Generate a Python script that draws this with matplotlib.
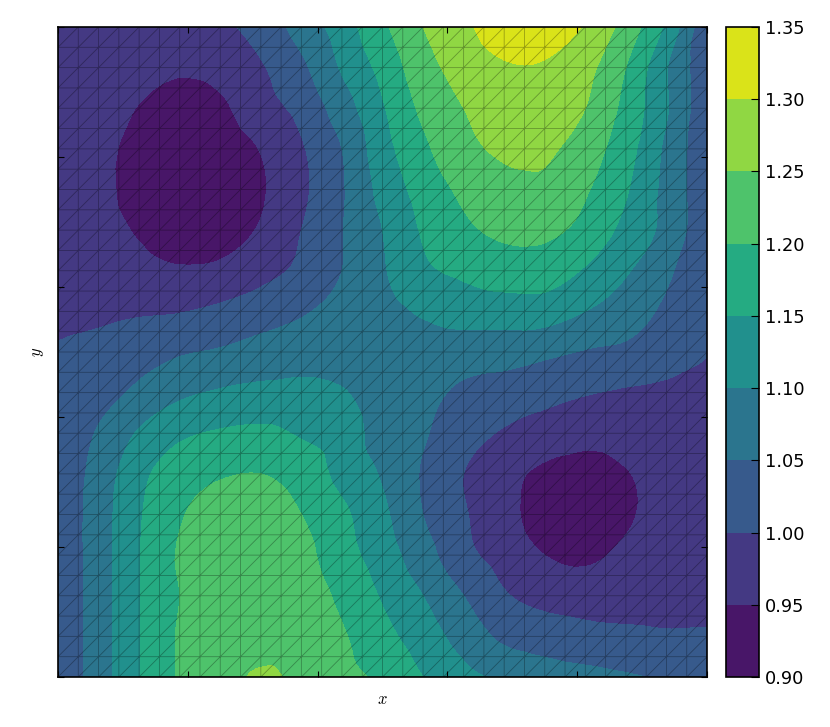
import numpy as np
import matplotlib
matplotlib.use('Agg')
import matplotlib.pyplot as plt
import matplotlib.tri as tri

plt.rcParams['mathtext.fontset'] = 'cm'

# values, rows go from top (y=1) to bottom (y=0)
row_1 = [0.980, 0.975, 0.970, 0.975, 0.990, 1.020, 1.070, 1.125, 1.190, 1.250, 1.290, 1.325, 1.325, 1.295, 1.230, 1.140, 1.012]
row_2 = [0.985, 0.975, 0.965, 0.956, 0.965, 0.995, 1.040, 1.105, 1.165, 1.230, 1.270, 1.295, 1.295, 1.265, 1.200, 1.103, 1.012]
row_3 = [0.985, 0.970, 0.948, 0.930, 0.942, 0.980, 1.015, 1.075, 1.145, 1.210, 1.250, 1.275, 1.280, 1.250, 1.185, 1.105, 1.012]
row_4 = [0.985, 0.968, 0.930, 0.915, 0.925, 0.952, 0.995, 1.050, 1.130, 1.190, 1.235, 1.258, 1.258, 1.225, 1.170, 1.090, 1.012]
row_5 = [0.985, 0.965, 0.930, 0.910, 0.920, 0.945, 0.990, 1.045, 1.115, 1.170, 1.210, 1.235, 1.240, 1.205, 1.155, 1.085, 1.012]
row_6 = [0.985, 0.970, 0.945, 0.925, 0.930, 0.955, 1.000, 1.048, 1.100, 1.155, 1.190, 1.210, 1.210, 1.185, 1.135, 1.085, 1.012]
row_7 = [0.990, 0.980, 0.965, 0.955, 0.960, 0.985, 1.010, 1.050, 1.095, 1.140, 1.160, 1.175, 1.175, 1.145, 1.105, 1.060, 1.005]
row_8 = [0.985, 0.990, 0.995, 0.998, 1.010, 1.025, 1.045, 1.065, 1.085, 1.105, 1.120, 1.125, 1.125, 1.100, 1.075, 1.040, 1.003]
row_9 = [1.005, 1.015, 1.030, 1.045, 1.055, 1.070, 1.075, 1.080, 1.080, 1.080, 1.075, 1.070, 1.060, 1.047, 1.040, 1.025, 1.002]
row_10 = [1.010, 1.030, 1.060, 1.090, 1.105, 1.112, 1.115, 1.103, 1.080, 1.065, 1.040, 1.030, 1.015, 1.003, 0.995, 0.990, 0.985]
row_11 = [1.010, 1.055, 1.105, 1.140, 1.155, 1.160, 1.145, 1.125, 1.080, 1.055, 1.020, 0.995, 0.980, 0.970, 0.975, 0.985, 0.990]
row_12 = [1.010, 1.070, 1.135, 1.180, 1.195, 1.200, 1.180, 1.135, 1.095, 1.045, 1.000, 0.965, 0.940, 0.925, 0.947, 0.970, 0.985]
row_13 = [1.010, 1.075, 1.145, 1.195, 1.225, 1.225, 1.200, 1.160, 1.110, 1.050, 1.005, 0.965, 0.930, 0.915, 0.943, 0.970, 0.985]
row_14 = [1.010, 1.075, 1.148, 1.205, 1.235, 1.240, 1.215, 1.170, 1.125, 1.070, 1.015, 0.980, 0.950, 0.940, 0.960, 0.975, 0.985]
row_15 = [1.010, 1.075, 1.148, 1.200, 1.235, 1.240, 1.225, 1.190, 1.145, 1.100, 1.050, 1.005, 0.985, 0.980, 0.980, 0.985, 0.990]
row_16 = [1.010, 1.075, 1.148, 1.205, 1.230, 1.235, 1.230, 1.205, 1.165, 1.125, 1.080, 1.040, 1.025, 1.015, 1.010, 1.005, 1.005]
row_17 = [1.010, 1.075, 1.148, 1.205, 1.235, 1.255, 1.240, 1.215, 1.190, 1.150, 1.115, 1.090, 1.075, 1.065, 1.055, 1.045, 1.040]

rows = [row_1, row_2, row_3, row_4, row_5, row_6, row_7, row_8, row_9,
        row_10, row_11, row_12, row_13, row_14, row_15, row_16, row_17]
levels = [0.90, 0.95, 1.00, 1.05, 1.10, 1.15, 1.20, 1.25, 1.30, 1.35]
tick_pos = [0.0, 0.2, 0.4, 0.6, 0.8, 1.0]


def malla(n):
    # triangulos con la diagonal "/" como en la malla original
    px, py = np.meshgrid(np.linspace(0, 1, n + 1), np.linspace(0, 1, n + 1))
    triangulos = []
    for j in range(n):
        for i in range(n):
            a = j * (n + 1) + i
            b = a + 1
            c = a + n + 1
            d = c + 1
            triangulos.append([a, b, d])
            triangulos.append([a, d, c])
    return tri.Triangulation(px.ravel(), py.ravel(), triangulos)


valores = np.array(rows)[::-1].ravel()
tri_datos = malla(16)
# suavizo con el refinador de matplotlib, sino los contornos quedan muy angulosos
refiner = tri.UniformTriRefiner(tri_datos)
tri_fina, z_fina = refiner.refine_field(valores, subdiv=3,
                                        triinterpolator=tri.CubicTriInterpolator(tri_datos, valores, kind='geom'))
z_fina = np.clip(z_fina, levels[0], levels[-1])

W, H = 830, 727
fig = plt.figure(figsize=(W / 100, H / 100), dpi=100)
ax = fig.add_axes([58 / W, 1 - 677 / H, 649 / W, 650 / H])
cax = fig.add_axes([726 / W, 1 - 677 / H, 33 / W, 650 / H])

cs = ax.tricontourf(tri_fina, z_fina, levels=levels, cmap='viridis')
ax.triplot(malla(32), color='k', lw=0.6, alpha=0.3)

ax.set_xlim(0, 1)
ax.set_ylim(0, 1)
ax.set_xticks(tick_pos)
ax.set_yticks(tick_pos)
ax.set_xticklabels([])
ax.set_yticklabels([])
ax.tick_params(direction='in', top=True, right=True, length=4, width=0.8)
ax.set_xlabel('$x$', fontsize=12, labelpad=5.5)
ax.set_ylabel('$y$', fontsize=12, labelpad=5)
for s in ax.spines.values():
    s.set_linewidth(1.2)

cb = fig.colorbar(cs, cax=cax, ticks=levels)
cb.ax.set_yticklabels(['%.2f' % v for v in levels])
cb.ax.tick_params(direction='in', length=6, width=0.8, labelsize=12.8, pad=4.5)
cb.outline.set_linewidth(1.2)

fig.savefig('out.png', dpi=100)
